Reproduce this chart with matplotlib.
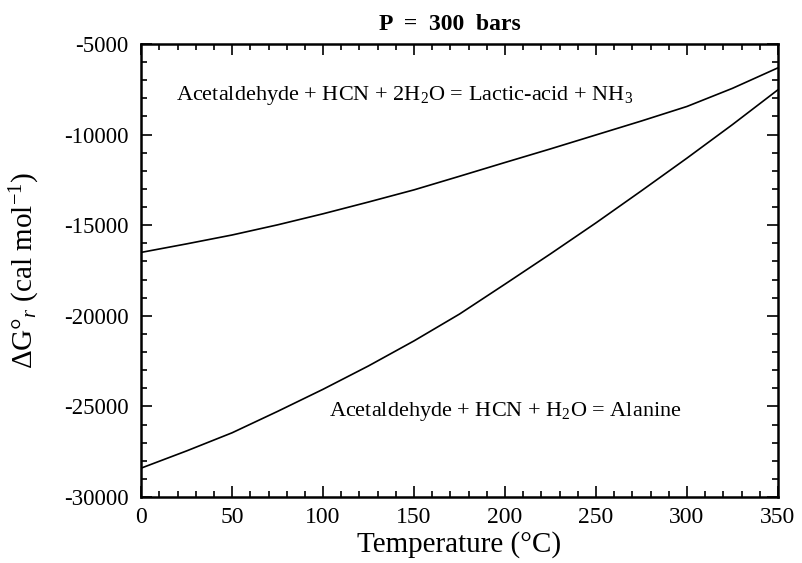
import matplotlib
matplotlib.use("Agg")
import matplotlib.pyplot as plt
from matplotlib.ticker import MultipleLocator

plt.rcParams['font.family'] = ['Liberation Serif', 'DejaVu Serif']
plt.rcParams['mathtext.fontset'] = 'custom'
plt.rcParams['mathtext.rm'] = 'Liberation Serif'
plt.rcParams['mathtext.it'] = 'Liberation Serif:italic'
plt.rcParams['axes.unicode_minus'] = False

# temperature (C)
temp = [0, 25, 50, 75, 100, 125, 150, 175, 200, 225, 250, 275, 300, 325, 350]
# dG of reaction, cal/mol
lactic = [-16500, -16030, -15540, -14980, -14370, -13720, -13050, -12300,
          -11540, -10790, -10020, -9250, -8450, -7450, -6320]
alanine = [-28400, -27450, -26450, -25270, -24050, -22760, -21380, -19900,
           -18250, -16580, -14870, -13100, -11300, -9450, -7530]

fig = plt.figure(figsize=(8.02, 5.63), dpi=100)
ax = fig.add_axes([0.176, 0.117, 0.794, 0.805])

ax.plot(temp, lactic, color='black', lw=1.2)
ax.plot(temp, alanine, color='black', lw=1.2)

ax.set_xlim(0, 350)
ax.set_ylim(-30000, -5000)
ax.xaxis.set_major_locator(MultipleLocator(50))
ax.xaxis.set_minor_locator(MultipleLocator(10))
ax.yaxis.set_major_locator(MultipleLocator(5000))
ax.yaxis.set_minor_locator(MultipleLocator(1000))
ax.tick_params(which='both', direction='in', top=True, right=True, width=1.2)
ax.tick_params(axis='x', labelsize=17, pad=7)
ax.tick_params(axis='y', labelsize=16.5, pad=9)
ax.tick_params(which='major', length=8)
ax.tick_params(which='minor', length=4)
for s in ax.spines.values():
    s.set_linewidth(1.8)

ax.text(19, -7850, 'Acetaldehyde + HCN + 2H$_2$O = Lactic-acid + NH$_3$',
        fontsize=16, va='center', ha='left')
ax.text(103, -25300, 'Acetaldehyde + HCN + H$_2$O = Alanine',
        fontsize=16, va='center', ha='left')

ax.set_title('P  =  300  bars', fontsize=17, fontweight='bold', pad=10, x=0.485)
ax.set_xlabel('Temperature (°C)', fontsize=21, labelpad=2)
ax.set_ylabel('ΔG°$_r$ (cal mol$^{-1}$)', fontsize=21, labelpad=16)

fig.savefig('out.png', dpi=100)
